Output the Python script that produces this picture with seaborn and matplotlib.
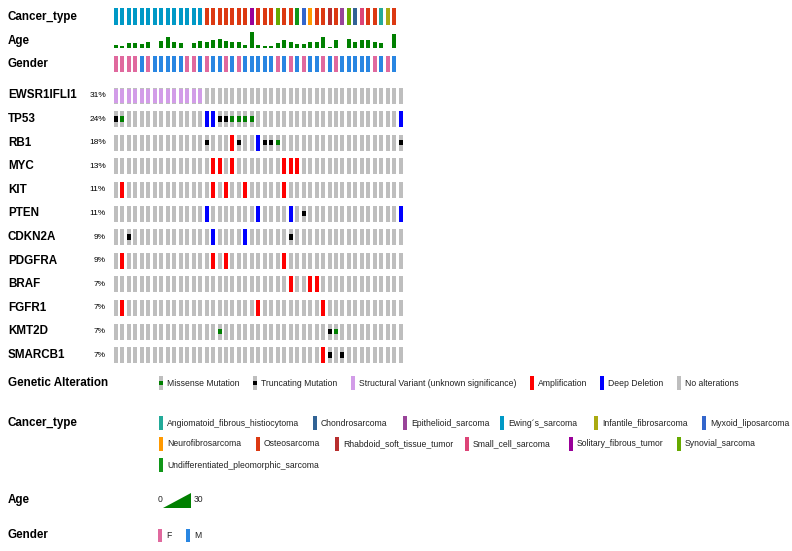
import numpy as np
import pandas as pd
import matplotlib
matplotlib.use("Agg")
import matplotlib.pyplot as plt
from matplotlib import font_manager
from matplotlib.patches import Rectangle, Polygon
import seaborn as sns

# ---- data (45 samples, columns 0..44) ----
genes = ["EWSR1IFLI1", "TP53", "RB1", "MYC", "KIT", "PTEN",
         "CDKN2A", "PDGFRA", "BRAF", "FGFR1", "KMT2D", "SMARCB1"]
gene_pct = ["31%", "24%", "18%", "13%", "11%", "11%",
            "9%", "9%", "7%", "7%", "7%", "7%"]

missense = {"TP53": [1, 18, 19, 20, 21], "RB1": [25], "KMT2D": [16, 34]}
truncating = {"TP53": [0, 16, 17], "RB1": [14, 19, 23, 24, 44], "PTEN": [29],
              "CDKN2A": [2, 27], "KMT2D": [33], "SMARCB1": [33, 35]}
structural = {"EWSR1IFLI1": [0, 1, 2, 3, 4, 5, 6, 7, 8, 9, 10, 11, 12, 13]}
amplification = {"RB1": [18], "MYC": [15, 16, 18, 26, 27, 28],
                 "KIT": [1, 15, 17, 20, 26], "PDGFRA": [1, 15, 17, 26],
                 "BRAF": [27, 30, 31], "FGFR1": [1, 22, 32], "SMARCB1": [32]}
deep_deletion = {"TP53": [14, 15, 44], "RB1": [22], "PTEN": [14, 22, 27, 44],
                 "CDKN2A": [15, 20]}

cancer_type = ["EWS"] * 14 + [
    "OST", "OST", "OST", "OST", "OST", "OST", "OST", "SFT", "OST", "OST",
    "OST", "SYN", "OST", "OST", "UPS", "MYX", "NEU", "OST", "OST", "RHB",
    "OST", "EPI", "SYN", "CHO", "SCS", "OST", "OST", "ANG", "INF", "OST", None]

age = [6, 5, 9, 10, 8, 12, 1, 13, 21, 12, 9, 1, 9, 13, 12, 15, 17, 14, 12, 11,
       6, 30, 6, 5, 5, 9, 15, 11, 8, 8, 11, 12, 21, 3, 15, np.nan, 17, 11, 15,
       15, 12, 10, np.nan, 26, np.nan]

gender = ["F", "F", "F", "F", "M", "F", "M", "M", "M", "M", "M", "F", "F", "M",
          "F", "M", "M", "F", "M", "F", "M", "M", "M", "M", "M", "F", "M", "F",
          "M", "F", "M", "M", "F", "M", "F", "M", "M", "M", "M", "M", "F", "M",
          "F", "M", None]

cancer_names = {
    "ANG": "Angiomatoid_fibrous_histiocytoma", "CHO": "Chondrosarcoma",
    "EPI": "Epithelioid_sarcoma", "EWS": "Ewing´s_sarcoma",
    "INF": "Infantile_fibrosarcoma", "MYX": "Myxoid_liposarcoma",
    "NEU": "Neurofibrosarcoma", "OST": "Osteosarcoma",
    "RHB": "Rhabdoid_soft_tissue_tumor", "SCS": "Small_cell_sarcoma",
    "SFT": "Solitary_fibrous_tumor", "SYN": "Synovial_sarcoma",
    "UPS": "Undifferentiated_pleomorphic_sarcoma",
}
cancer_colors = {
    "ANG": "#22aa99", "CHO": "#316395", "EPI": "#994499", "EWS": "#0099c6",
    "INF": "#aaaa11", "MYX": "#3366cc", "NEU": "#ff9900", "OST": "#dc3912",
    "RHB": "#b82e2e", "SCS": "#dd4477", "SFT": "#990099", "SYN": "#66aa00",
    "UPS": "#109618",
}
gender_colors = {"F": "#e0699e", "M": "#2986e2"}

GRAY = "#bebebe"
GREEN = "#008000"
SV_COL = "#d29ce8"
AMP_COL = "#ff0000"
DEL_COL = "#0000ff"
AGE_COL = "#008000"

n = len(gender)
xs = np.arange(n)

# ---- figure / layout in pixels ----
W, H = 792, 551
sns.set_theme(style="white")
plt.rcParams["font.family"] = ["Liberation Sans", "DejaVu Sans"]

installed = {f.name for f in font_manager.fontManager.ttflist}
if "Liberation Sans Narrow" in installed:
    leg_font = dict(family=["Liberation Sans Narrow", "Liberation Sans"], size=7.0)
else:
    leg_font = dict(family=["Liberation Sans", "DejaVu Sans"], size=6.2)

fig = plt.figure(figsize=(W / 100, H / 100), dpi=100)


def px_axes(left, top, width, height):
    a = fig.add_axes([left / W, 1 - (top + height) / H, width / W, height / H])
    a.set_axis_off()
    return a


pitch = 6.47
cell_w = 0.62
x_left = 114 - (0.5 - cell_w / 2) * pitch
x_width = n * pitch

# clinical tracks
ax_ct = px_axes(x_left, 8.3, x_width, 16.7)
ax_ct.set_xlim(-0.5, n - 0.5)
ax_ct.set_ylim(0, 1)
ct_idx = [i for i, c in enumerate(cancer_type) if c]
ax_ct.bar(ct_idx, 1, width=cell_w, bottom=0, linewidth=0,
          color=[cancer_colors[cancer_type[i]] for i in ct_idx])

ax_age = px_axes(x_left, 32.0, x_width, 16.3)
age_df = pd.DataFrame({"sample": xs, "age": age})
sns.barplot(data=age_df, x="sample", y="age", native_scale=True, ax=ax_age,
            color=AGE_COL, saturation=1, width=cell_w, linewidth=0, errorbar=None)
ax_age.set_xlim(-0.5, n - 0.5)
ax_age.set_ylim(0, 30)
ax_age.set_axis_off()

ax_g = px_axes(x_left, 55.7, x_width, 16.7)
ax_g.set_xlim(-0.5, n - 0.5)
ax_g.set_ylim(0, 1)
g_idx = [i for i, g in enumerate(gender) if g]
ax_g.bar(g_idx, 1, width=cell_w, bottom=0, linewidth=0,
         color=[gender_colors[gender[i]] for i in g_idx])

# gene grid
row_pitch = 23.6
first_center = 95.5
cell_h = 16 / row_pitch
ax = px_axes(x_left, first_center - row_pitch / 2, x_width, row_pitch * len(genes))
ax.set_xlim(-0.5, n - 0.5)
ax.set_ylim(len(genes) - 0.5, -0.5)

for gi, gene in enumerate(genes):
    ax.bar(xs, cell_h, width=cell_w, bottom=gi - cell_h / 2, color=GRAY, linewidth=0)


def draw_kind(table, color, frac, lo):
    for gene, samples in table.items():
        gi = genes.index(gene)
        ax.bar(samples, cell_h * frac, width=cell_w,
               bottom=gi - cell_h / 2 + cell_h * lo, color=color, linewidth=0)


draw_kind(structural, SV_COL, 0.85, 0.12)
draw_kind(amplification, AMP_COL, 1.0, 0.0)
draw_kind(deep_deletion, DEL_COL, 1.0, 0.0)
draw_kind(missense, GREEN, 1 / 3, 1 / 3)
draw_kind(truncating, "black", 1 / 3, 1 / 3)

# ---- text and legend (overlay in pixel coordinates) ----
ov = fig.add_axes([0, 0, 1, 1], facecolor="none")
ov.set_xlim(0, W)
ov.set_ylim(H, 0)
ov.set_axis_off()

lab = dict(fontsize=8.4, fontweight="bold", va="center", ha="left", color="black")
ov.text(8, 17, "Cancer_type", **lab)
ov.text(8, 41, "Age", **lab)
ov.text(8, 64, "Gender", **lab)
for gi, gene in enumerate(genes):
    y = first_center + gi * row_pitch
    ov.text(8, y, gene, **lab)
    ov.text(106, y, gene_pct[gi], fontsize=6, ha="right", va="center", color="black")

glyph_w, glyph_h = 4, 13.5


def glyph(x, y, color, inner=None, frac=1.0, lo=0.0):
    ov.add_patch(Rectangle((x, y - glyph_h / 2), glyph_w, glyph_h,
                           facecolor=GRAY if inner else color, linewidth=0))
    if inner:
        ov.add_patch(Rectangle((x, y - glyph_h / 2 + glyph_h * lo), glyph_w,
                               glyph_h * frac, facecolor=inner, linewidth=0))


def leg_text(x, y, s):
    ov.text(x, y, s, va="center", ha="left", color="#222222", **leg_font)


# Genetic alteration legend
ga_y = 383
ov.text(8, ga_y, "Genetic Alteration", **lab)
ga_items = [("Missense Mutation", 167, GRAY, GREEN),
            ("Truncating Mutation", 261, GRAY, "black"),
            ("Structural Variant (unknown significance)", 359, SV_COL, None),
            ("Amplification", 538, AMP_COL, None),
            ("Deep Deletion", 608, DEL_COL, None),
            ("No alterations", 685, GRAY, None)]
for name, tx, col, inner in ga_items:
    glyph(tx - 8.5, ga_y, col, inner, 1 / 3, 1 / 3)
    leg_text(tx, ga_y, name)

# Cancer type legend
ov.text(8, 423, "Cancer_type", **lab)
ct_rows = [
    (423, [("ANG", 167), ("CHO", 321), ("EPI", 411), ("EWS", 508), ("INF", 602), ("MYX", 710)]),
    (444, [("NEU", 167), ("OST", 264), ("RHB", 343), ("SCS", 473), ("SFT", 577), ("SYN", 685)]),
    (465, [("UPS", 167)]),
]
for y, items in ct_rows:
    for key, tx in items:
        glyph(tx - 8.5, y, cancer_colors[key])
        leg_text(tx, y, cancer_names[key])

# Age legend
age_y = 500
ov.text(8, age_y, "Age", **lab)
leg_text(158, age_y, "0")
ov.add_patch(Polygon([(162.5, 507.7), (191, 507.7), (191, 493.3)], closed=True,
                     facecolor=AGE_COL, linewidth=0))
leg_text(194, age_y, "30")

# Gender legend
gy = 535.5
ov.text(8, gy, "Gender", **lab)
glyph(158, gy, gender_colors["F"])
leg_text(166.5, gy, "F")
glyph(186, gy, gender_colors["M"])
leg_text(194, gy, "M")

fig.savefig("out.png", dpi=100)
